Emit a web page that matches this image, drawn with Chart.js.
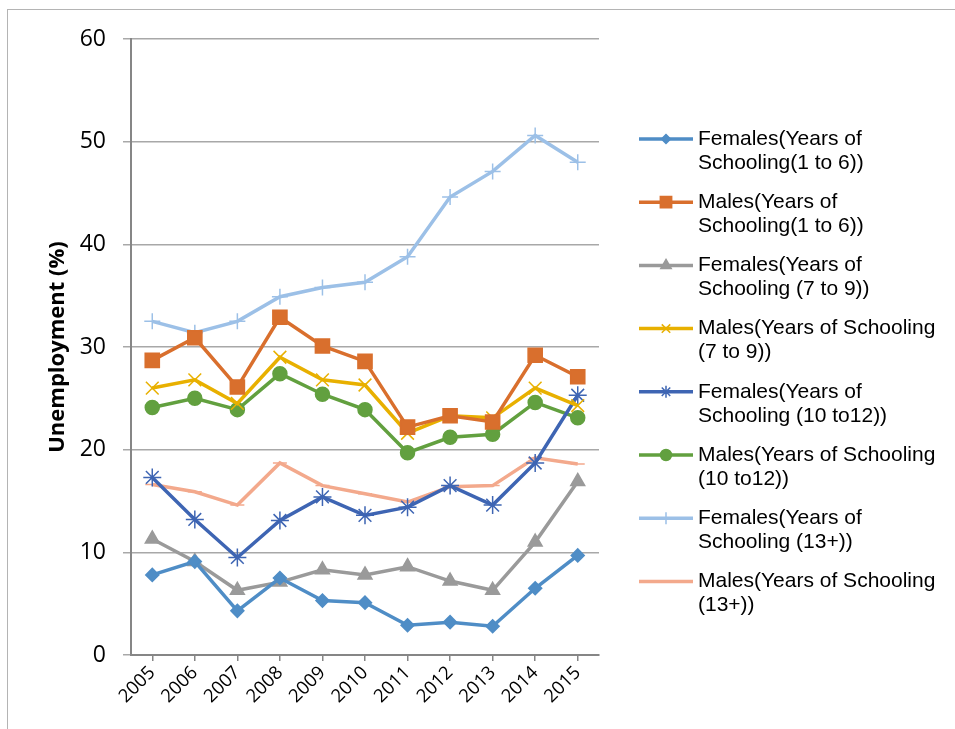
<!DOCTYPE html>
<html>
<head>
<meta charset="utf-8">
<script src="https://cdn.jsdelivr.net/npm/chart.js@4.4.0/dist/chart.umd.min.js"></script>
<style>
  body { margin: 0; background: #fff; }
  #wrap { position: relative; width: 955px; height: 729px; }
  #frame { position: absolute; left: 7px; top: 9px; right: -10px; bottom: -10px; border-left: 1.5px solid #b4b4b4; border-top: 1.5px solid #b4b4b4; pointer-events: none; }
</style>
</head>
<body>
<div id="wrap">
  <canvas id="unemploymentChart"></canvas>
  <div id="frame"></div>
</div>
<script>
// categorias (anos)
const years = ['2005', '2006', '2007', '2008', '2009', '2010', '2011', '2012', '2013', '2014', '2015'];

// séries (%)
const femalesYrs1to6   = [7.8, 9.1, 4.3, 7.5, 5.3, 5.1, 2.9, 3.2, 2.8, 6.5, 9.7];
const malesYrs1to6     = [28.7, 30.9, 26.1, 32.9, 30.1, 28.6, 22.2, 23.3, 22.7, 29.2, 27.1];
const femalesYrs7to9   = [11.3, 9.1, 6.3, 7.1, 8.3, 7.8, 8.6, 7.2, 6.3, 11.0, 16.9];
const malesYrs7to9     = [26.0, 26.8, 24.5, 29.0, 26.8, 26.3, 21.6, 23.3, 23.1, 26.0, 24.3];
const femalesYrs10to12 = [17.3, 13.2, 9.5, 13.1, 15.4, 13.6, 14.4, 16.5, 14.6, 18.7, 25.3];
const malesYrs10to12   = [24.1, 25.0, 23.9, 27.4, 25.4, 23.9, 19.7, 21.2, 21.5, 24.6, 23.1];
const femalesYrs13     = [32.5, 31.4, 32.5, 34.9, 35.8, 36.3, 38.8, 44.6, 47.1, 50.6, 48.0];
const malesYrs13       = [16.6, 15.9, 14.6, 18.7, 16.5, 15.7, 14.9, 16.4, 16.5, 19.2, 18.6];

// legendas (quebradas em duas linhas como no original)
const seriesLabels = [
    ['Females(Years of', 'Schooling(1 to 6))'],
    ['Males(Years of', 'Schooling(1 to 6))'],
    ['Females(Years of', 'Schooling (7 to 9))'],
    ['Males(Years of Schooling', '(7 to 9))'],
    ['Females(Years of', 'Schooling (10 to12))'],
    ['Males(Years of Schooling', '(10 to12))'],
    ['Females(Years of', 'Schooling (13+))'],
    ['Males(Years of Schooling', '(13+))']
];

const yTicks = [0, 10, 20, 30, 40, 50, 60];

const seriesData = [femalesYrs1to6, malesYrs1to6, femalesYrs7to9, malesYrs7to9,
                    femalesYrs10to12, malesYrs10to12, femalesYrs13, malesYrs13];
const colors = ['#4f8dc6', '#d96f2d', '#9a9a9a', '#e8b000', '#3e65b3', '#62a03f', '#9cc0e7', '#f3a98c'];
const markers = ['rectRot', 'rect', 'triangle', 'crossRot', 'star', 'circle', 'cross', 'line'];
const markerSize = [6.5, 10, 8, 9, 9, 7, 8, 7];
const legendMarkerSize = [4.5, 8, 6, 6, 6, 5.5, 6, 6];

const datasets = seriesData.map((values, i) => ({
    label: seriesLabels[i].join(' '),
    data: values,
    borderColor: colors[i],
    backgroundColor: colors[i],
    pointBackgroundColor: colors[i],
    pointBorderColor: colors[i],
    pointStyle: markers[i],
    pointRadius: markerSize[i],
    pointBorderWidth: 1.5,
    borderWidth: 3.5,
    tension: 0,
    fill: false
}));

// Plugin para desenhar a legenda com textos em duas linhas
const sideLegend = {
    id: 'sideLegend',
    afterDraw(chart) {
        const ctx = chart.ctx;
        const x0 = 639, x1 = 693, textX = 698;
        ctx.save();
        chart.data.datasets.forEach((ds, i) => {
            const y = 139 + i * 63.2;
            ctx.strokeStyle = ds.borderColor;
            ctx.lineWidth = 3.5;
            ctx.beginPath();
            ctx.moveTo(x0, y);
            ctx.lineTo(x1, y);
            ctx.stroke();
            ctx.fillStyle = ds.borderColor;
            ctx.lineWidth = 1.5;
            Chart.helpers.drawPoint(ctx, {
                pointStyle: ds.pointStyle,
                radius: legendMarkerSize[i],
                rotation: 0,
                borderWidth: 1.5
            }, (x0 + x1) / 2, y);
            ctx.fillStyle = '#000';
            ctx.font = '21px "Liberation Sans", Arial, sans-serif';
            ctx.textBaseline = 'middle';
            ctx.textAlign = 'left';
            seriesLabels[i].forEach((line, k) => ctx.fillText(line, textX, y + k * 24));
        });
        ctx.restore();
    }
};

const ctx = document.getElementById('unemploymentChart').getContext('2d');
new Chart(ctx, {
    type: 'line',
    data: { labels: years, datasets: datasets },
    plugins: [sideLegend],
    options: {
        responsive: true,
        maintainAspectRatio: false,
        animation: false,
        layout: { padding: { top: 39, right: 356, left: 0, bottom: 0 } },
        plugins: {
            legend: { display: false },
            tooltip: { enabled: false }
        },
        scales: {
            x: {
                type: 'category',
                offset: true,
                afterFit: (scale) => { scale.height = 74; },
                grid: { drawOnChartArea: false, drawTicks: true, tickLength: 6, color: '#868686', lineWidth: 1.5 },
                border: { display: true, color: '#868686', width: 2 },
                ticks: {
                    color: '#000',
                    minRotation: 45,
                    maxRotation: 45,
                    padding: 1,
                    font: { family: '"Open Sans", sans-serif', size: 18.5 }
                }
            },
            y: {
                min: 0,
                max: 60,
                afterFit: (scale) => { scale.width = 131; },
                afterBuildTicks: (scale) => { scale.ticks = yTicks.map(v => ({ value: v })); },
                grid: { color: '#a8a8a8', lineWidth: 1.5, drawTicks: true, tickLength: 8 },
                border: { display: true, color: '#868686', width: 2 },
                ticks: {
                    color: '#000',
                    padding: 17,
                    font: { family: '"Open Sans", sans-serif', size: 23 }
                },
                title: {
                    display: true,
                    text: 'Unemployment (%)',
                    color: '#000',
                    padding: { top: 45 },
                    font: { family: '"Open Sans", sans-serif', size: 22, weight: 'bold' }
                }
            }
        }
    }
});
</script>
</body>
</html>
